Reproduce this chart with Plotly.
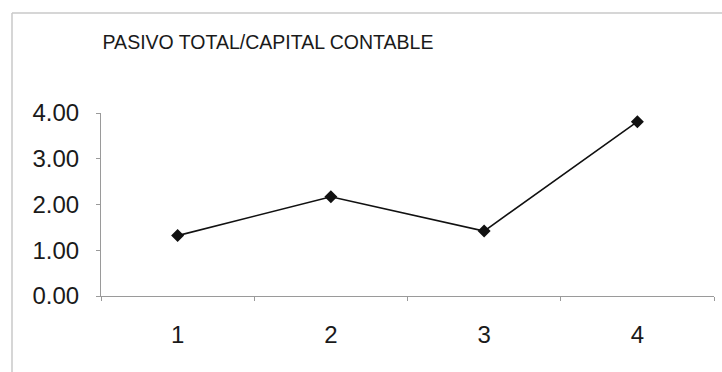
import plotly.graph_objects as go

periods = ["1", "2", "3", "4"]
ratio = [1.32, 2.17, 1.42, 3.81]
y_ticks = [0, 1, 2, 3, 4]
y_tick_labels = ["0.00", "1.00", "2.00", "3.00", "4.00"]
title_text = "PASIVO TOTAL/CAPITAL CONTABLE"

W, H = 722, 372
L, R, T, B = 101, 8, 113, 76

fig = go.Figure()
fig.add_trace(go.Scatter(
    x=periods, y=ratio, mode="lines+markers",
    line=dict(color="#111111", width=1.6),
    marker=dict(symbol="diamond", size=10, color="#111111"),
    showlegend=False, hoverinfo="x+y",
))

pw = W - L - R
ph = H - T - B
# outer chart border (light grey, partially cropped as in the scan)
bx0 = (12 - L) / pw
by1 = 1 + (T - 13) / ph
fig.add_shape(type="line", xref="paper", yref="paper", x0=bx0, x1=1 + (R + 5) / pw,
              y0=by1, y1=by1, line=dict(color="#c8c8c8", width=1.5), layer="below")
fig.add_shape(type="line", xref="paper", yref="paper", x0=bx0, x1=bx0,
              y0=by1, y1=-(B + 5) / ph, line=dict(color="#c8c8c8", width=1.5), layer="below")

fig.update_layout(
    width=W, height=H,
    margin=dict(l=L, r=R, t=T, b=B, pad=0),
    paper_bgcolor="white", plot_bgcolor="white",
    font=dict(family="Liberation Sans, Arial, sans-serif", color="#1a1a1a"),
    title=dict(text=title_text, xref="container", yref="container",
               x=268 / W, xanchor="center", y=1 - 42 / H, yanchor="middle",
               font=dict(family="Liberation Sans, Arial", size=19.5, color="#1a1a1a")),
    xaxis=dict(type="category", range=[-0.5, 3.5], showgrid=False, showline=True,
               linecolor="#9a9a9a", linewidth=1.2, ticks="outside", tickson="boundaries",
               ticklen=4, tickcolor="#9a9a9a", tickfont=dict(size=24, color="#1a1a1a"),
               ticklabelstandoff=17, zeroline=False, fixedrange=True),
    yaxis=dict(range=[0, 4], tickvals=y_ticks, ticktext=y_tick_labels, showgrid=False,
               showline=True, linecolor="#9a9a9a", linewidth=1.2, ticks="outside",
               ticklen=4, tickcolor="#9a9a9a", tickfont=dict(size=24, color="#1a1a1a"),
               ticklabelstandoff=12, zeroline=False, fixedrange=True),
)

fig.write_html("out.html")
